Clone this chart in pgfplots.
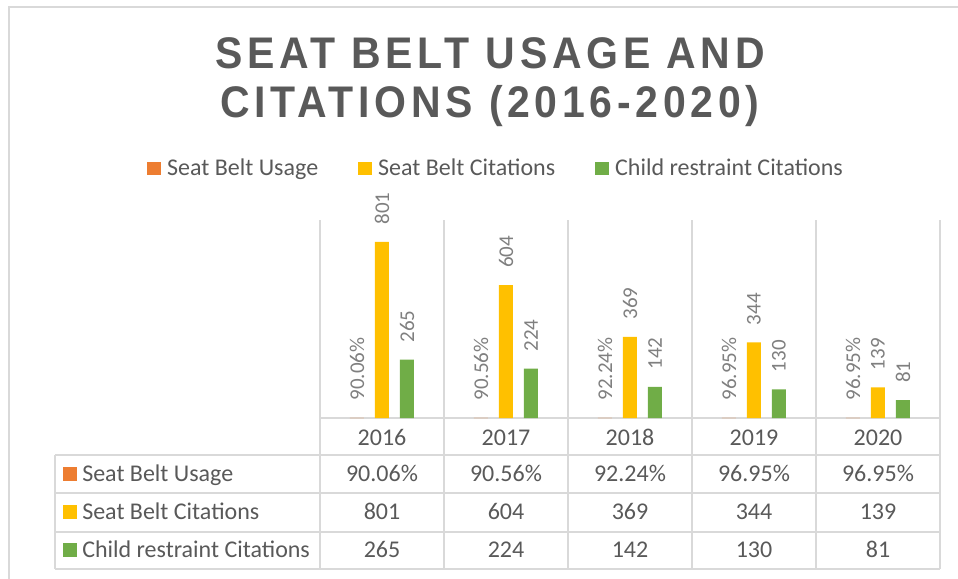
\documentclass[border=0pt]{standalone}
\usepackage{pgfplots}
\pgfplotsset{compat=1.18}
\usepackage{fontspec}
\setmainfont{Carlito}
\newfontfamily\titlefont[LetterSpace=11.5]{Liberation Sans}
\definecolor{cOrange}{HTML}{ED7D31}
\definecolor{cYellow}{HTML}{FFC000}
\definecolor{cGreen}{HTML}{70AD47}
\definecolor{cText}{HTML}{595959}
\definecolor{cLabel}{HTML}{7F7F7F}
\definecolor{cGrid}{HTML}{D9D9D9}
\newcommand{\tabfont}{\fontsize{18pt}{21pt}\selectfont}
\begin{document}
\begin{tikzpicture}
\path[use as bounding box] (0,0) rectangle (718.5pt,-434.25pt);
\begin{scope}[x=0.75pt,y=-0.75pt]
 \draw[cGrid, line width=1.2pt] (9,579) -- (9,7) -- (958,7);
 \node[anchor=base, inner sep=0pt, text=cText, font=\titlefont\bfseries\fontsize{30.75pt}{36pt}\selectfont] at (490,68) {\scalebox{1}[1.08]{SEAT BELT USAGE AND}};
 \node[anchor=base, inner sep=0pt, text=cText, font=\titlefont\bfseries\fontsize{30.75pt}{36pt}\selectfont] at (490,117) {\scalebox{1}[1.08]{CITATIONS (2016-2020)}};
 % data table grid
 \draw[cGrid, line width=1.2pt] (320,418) -- (940,418);
 \foreach \y in {455,493,532,569} \draw[cGrid, line width=1.2pt] (55,\y) -- (940,\y);
 \foreach \x in {320,444,568,692,816,940} \draw[cGrid, line width=1.2pt] (\x,418) -- (\x,569);
 \draw[cGrid, line width=1.2pt] (55,455) -- (55,569);
 % row headers
 \fill[cOrange] (63,467) rectangle (77,481);
 \fill[cYellow] (63,505) rectangle (77,519);
 \fill[cGreen] (63,543) rectangle (77,557);
 \node[anchor=base west, inner sep=0pt, text=cText, font=\tabfont] at (82,481) {Seat Belt Usage};
 \node[anchor=base west, inner sep=0pt, text=cText, font=\tabfont] at (82,519) {Seat Belt Citations};
 \node[anchor=base west, inner sep=0pt, text=cText, font=\tabfont] at (82,557) {Child restraint Citations};
 % row values
 \foreach \v [count=\i from 0] in {90.06\%,90.56\%,92.24\%,96.95\%,96.95\%}
   \node[anchor=base, inner sep=0pt, text=cText, font=\tabfont] at (382+124*\i,481) {\v};
 \foreach \v [count=\i from 0] in {801,604,369,344,139}
   \node[anchor=base, inner sep=0pt, text=cText, font=\tabfont] at (382+124*\i,519) {\v};
 \foreach \v [count=\i from 0] in {265,224,142,130,81}
   \node[anchor=base, inner sep=0pt, text=cText, font=\tabfont] at (382+124*\i,557) {\v};
\end{scope}
\begin{axis}[
  at={(240pt,-313.5pt)}, anchor=south west,
  scale only axis, width=465pt, height=148.5pt,
  xmin=-0.5, xmax=4.5, ymin=0, ymax=900,
  axis line style={draw=none},
  ytick=\empty,
  xtick={0,1,2,3,4},
  xticklabels={2016,2017,2018,2019,2020},
  major tick length=0pt,
  xticklabel style={anchor=base, yshift=-20.25pt, inner sep=0pt, font=\tabfont, text=cText},
  extra x ticks={-0.5,0.5,1.5,2.5,3.5,4.5},
  extra x tick labels={},
  extra x tick style={grid=major, major grid style={draw=cGrid, line width=1.2pt}, major tick length=0pt},
  ybar,
  bar width=10.5pt,
  point meta=explicit symbolic,
  nodes near coords,
  every node near coord/.append style={rotate=90, anchor=west, inner xsep=12.75pt, inner ysep=0pt, font=\fontsize{15.75pt}{18pt}\selectfont, text=cLabel},
  legend columns=3,
  legend style={draw=none, fill=none, at={(0.2823,1.2626)}, anchor=center,
     nodes={inner sep=0pt, anchor=base west, text=cText, font=\tabfont},
     /tikz/every odd column/.append style={column sep=5pt},
     /tikz/every even column/.append style={column sep=30pt}},
  legend image code/.code={\fill[#1] (0pt,0pt) rectangle (10pt,10pt);},
  clip=false,
]
\addplot[fill=cOrange, draw=none, bar shift=-18.75pt] coordinates {(0,0.9006)[90.06\%] (1,0.9056)[90.56\%] (2,0.9224)[92.24\%] (3,0.9695)[96.95\%] (4,0.9695)[96.95\%]};
\addlegendentry{Seat Belt Usage}
\addplot[fill=cYellow, draw=none, bar shift=0pt] coordinates {(0,801)[801] (1,604)[604] (2,369)[369] (3,344)[344] (4,139)[139]};
\addlegendentry{Seat Belt Citations}
\addplot[fill=cGreen, draw=none, bar shift=18.75pt] coordinates {(0,265)[265] (1,224)[224] (2,142)[142] (3,130)[130] (4,81)[81]};
\addlegendentry{Child restraint Citations}
\end{axis}
\end{tikzpicture}
\end{document}
